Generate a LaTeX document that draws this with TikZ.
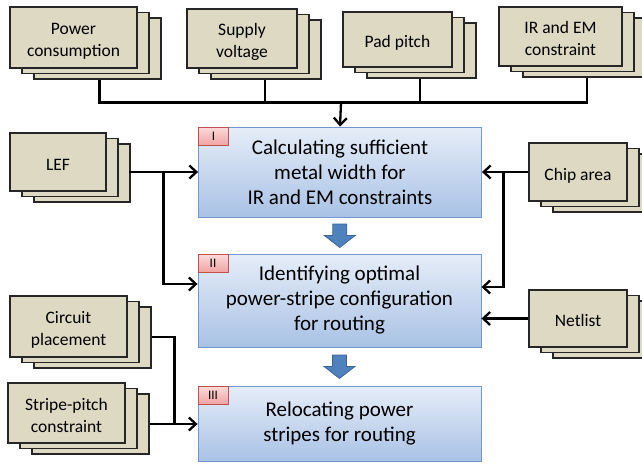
\documentclass[tikz,border=0pt]{standalone}
\usepackage{fontspec}
\setmainfont{Carlito}
\usetikzlibrary{shadows,calc,arrows.meta}
\definecolor{tanfill}{HTML}{DDD9C3}
\definecolor{tanline}{HTML}{262626}
\definecolor{bluetop}{HTML}{E6EDF8}
\definecolor{bluebot}{HTML}{A9C2E5}
\definecolor{blueline}{HTML}{7399CC}
\definecolor{redtop}{HTML}{FCDADA}
\definecolor{redbot}{HTML}{F0A3A3}
\definecolor{redline}{HTML}{C0504D}
\definecolor{arrfill}{HTML}{4F81BD}
\definecolor{arrline}{HTML}{3A6496}
\newcommand\lowtxt[1]{\raisebox{-4pt}[\height][\depth]{\begin{tabular}{@{}c@{}}#1\end{tabular}}}
\tikzset{
  stackbox/.style={draw=tanline, fill=tanfill, line width=1.2pt, align=center,
    inner sep=2pt, font=\fontsize{17.5}{22}\selectfont,
    copy shadow={shadow xshift=24pt, shadow yshift=-11pt, fill=tanfill, draw=tanline, line width=1.2pt},
    copy shadow={shadow xshift=12pt, shadow yshift=-5.5pt, fill=tanfill, draw=tanline, line width=1.2pt}},
  stepbox/.style={draw=blueline, line width=0.9pt, top color=bluetop, bottom color=bluebot,
    align=center, minimum width=283pt, font=\fontsize{21}{25}\selectfont},
  tabbox/.style={draw=redline, line width=0.9pt, top color=redtop, bottom color=redbot,
    minimum width=30pt, minimum height=18.5pt, inner sep=0pt, anchor=north west,
    font=\fontsize{13}{13}\selectfont},
  conn/.style={line width=2.3pt, draw=black},
  arr/.style={conn, -{Straight Barb[length=7pt,width=13pt]}},
  fatarrow/.style={fill=arrfill, draw=arrline, line width=0.7pt}
}
\begin{document}
\begin{tikzpicture}[x=1pt,y=-1pt]
\useasboundingbox (0,0) rectangle (642,464);
% input stacks
\node[stackbox, minimum width=127pt, minimum height=61pt] (pc) at (73.5,37.5) {\lowtxt{Power\\consumption}};
\node[stackbox, minimum width=110pt, minimum height=59pt] (sv) at (242,38.5) {\lowtxt{Supply\\voltage}};
\node[stackbox, minimum width=109pt, minimum height=55pt] (pp) at (397.5,39.5) {\lowtxt{Pad pitch}};
\node[stackbox, minimum width=123pt, minimum height=59pt] (ir) at (560.5,36.5) {\lowtxt{IR and EM\\constraint}};
\node[stackbox, minimum width=96pt, minimum height=58pt] (lef) at (58,162) {\lowtxt{LEF}};
\node[stackbox, minimum width=98pt, minimum height=58pt] (chip) at (578,172) {\lowtxt{Chip area}};
\node[stackbox, minimum width=98pt, minimum height=57pt] (net) at (578,318.5) {\lowtxt{Netlist}};
\node[stackbox, minimum width=117pt, minimum height=61pt] (cp) at (68.5,326.5) {\lowtxt{Circuit\\placement}};
\node[stackbox, minimum width=117pt, minimum height=60pt] (st) at (66.5,413) {\lowtxt{Stripe-pitch\\constraint}};
% step boxes
\node[stepbox, minimum height=90pt] (b1) at (340,172) {Calculating sufficient\\metal width for\\IR and EM constraints};
\node[stepbox, minimum height=93pt] (b2) at (339.5,300.5) {Identifying optimal\\power-stripe configuration\\for routing};
\node[stepbox, minimum height=75pt] (b3) at (339.5,423.5) {Relocating power\\stripes for routing};
\node[tabbox] (t1) at (b1.north west) {I};
\node[tabbox] (t2) at (b2.north west) {II};
\node[tabbox] (t3) at (b3.north west) {III};
% top bus
\coordinate (pcb) at ($(pc.south)+(26,11)$);
\coordinate (svb) at ($(sv.south)+(23,11)$);
\coordinate (ppb) at ($(pp.south)+(22.5,11)$);
\coordinate (irb) at ($(ir.south)+(26.5,11)$);
\coordinate (bus) at ($(b1.north)+(1,-24)$);
\draw[conn, line join=miter] (pcb) |- (bus) -| (irb);
\draw[conn] (svb) -- (svb |- bus);
\draw[conn] (ppb) -- (ppb |- bus);
\draw[arr] (bus) -- (b1.north);
% left inputs
\coordinate (lefo) at ($(lef.east)+(22,10)$);
\coordinate (lefj) at ($(lefo)+(35,0)$);
\draw[arr] (lefo) -- (lefo -| b1.west);
\draw[arr] (lefj) |- ($(b2.west)+(0,-16.5)$);
\coordinate (cpo) at ($(cp.east)+(24,10.5)$);
\coordinate (sto) at ($(st.east)+(24,11)$);
\coordinate (stj) at ($(sto)+(25,0)$);
\draw[conn] (cpo) -| (stj);
\draw[arr] (sto) -- (sto -| b3.west);
% right inputs
\coordinate (chj) at ($(chip.west)+(-25,0)$);
\draw[arr] (chip.west) -- (chip.west -| b1.east);
\draw[arr] (chj) |- ($(b2.east)+(0,-13.5)$);
\draw[arr] (net.west) -- (net.west -| b2.east);
% fat arrows
\coordinate (a1) at ($(b1.south)!0.5!(b2.north)$);
\coordinate (a2) at ($(b2.south)!0.5!(b3.north)$);
\foreach \a in {a1,a2}{
  \draw[fatarrow] ($(\a)+(-7,-11.5)$) -- ($(\a)+(7,-11.5)$) -- ($(\a)+(7,0)$) -- ($(\a)+(15.5,0)$)
    -- ($(\a)+(0,12)$) -- ($(\a)+(-15.5,0)$) -- ($(\a)+(-7,0)$) -- cycle;
}
\end{tikzpicture}
\end{document}
